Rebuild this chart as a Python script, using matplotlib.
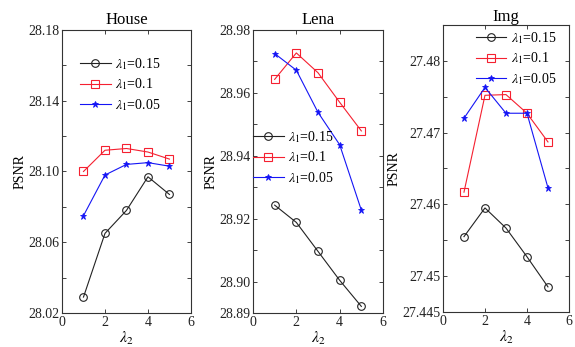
import matplotlib
matplotlib.use('Agg')
import matplotlib.pyplot as plt
from matplotlib.ticker import FixedLocator, FixedFormatter

plt.rcParams['font.family'] = ['Liberation Serif', 'DejaVu Serif']
plt.rcParams['mathtext.fontset'] = 'stix'
plt.rcParams['font.size'] = 10

lam2 = [1, 2, 3, 4, 5]
labels = [r'$\lambda_1$=0.15', r'$\lambda_1$=0.1', r'$\lambda_1$=0.05']

house_015 = [28.029, 28.065, 28.078, 28.097, 28.087]
house_01 = [28.100, 28.112, 28.113, 28.111, 28.107]
house_005 = [28.075, 28.098, 28.104, 28.105, 28.103]

lena_015 = [28.9243, 28.9188, 28.9096, 28.9004, 28.8921]
lena_01 = [28.9643, 28.9727, 28.9664, 28.9570, 28.9479]
lena_005 = [28.9725, 28.9672, 28.9538, 28.9435, 28.9227]

img_015 = [27.4555, 27.4595, 27.4567, 27.4527, 27.4485]
img_01 = [27.4617, 27.4752, 27.4753, 27.4727, 27.4687]
img_005 = [27.4720, 27.4763, 27.4727, 27.4727, 27.4623]

panels = [
    dict(title='House', data=[house_015, house_01, house_005],
         ylim=(28.02, 28.18),
         major=[28.02, 28.06, 28.10, 28.14, 28.18],
         major_lbl=['28.02', '28.06', '28.10', '28.14', '28.18'],
         minor=[28.04, 28.08, 28.12, 28.16],
         pos=[0.1078, 0.098, 0.2243, 0.8156],
         leg=(0.14, 0.908), title_pad=4),
    dict(title='Lena', data=[lena_015, lena_01, lena_005],
         ylim=(28.89, 28.98),
         major=[28.89, 28.90, 28.92, 28.94, 28.96, 28.98],
         major_lbl=['28.89', '28.90', '28.92', '28.94', '28.96', '28.98'],
         minor=[28.91, 28.93, 28.95, 28.97],
         pos=[0.4400, 0.098, 0.2261, 0.8156],
         leg=(0.0, 0.65), title_pad=4),
    dict(title='Img', data=[img_015, img_01, img_005],
         ylim=(27.445, 27.485),
         major=[27.445, 27.45, 27.46, 27.47, 27.48],
         major_lbl=['27.445', '27.45', '27.46', '27.47', '27.48'],
         minor=[27.455, 27.465, 27.475],
         pos=[0.7704, 0.1009, 0.2191, 0.8271],
         leg=(0.26, 0.983), title_pad=1.5),
]

styles = [
    dict(color='#222222', marker='o', mfc='none', ms=5.5, mew=0.8),
    dict(color='#f52030', marker='s', mfc='none', ms=5.5, mew=0.8),
    dict(color='#1515f5', marker='*', ms=5, mew=0.6),
]

fig = plt.figure(figsize=(5.75, 3.47), dpi=100)

for p in panels:
    ax = fig.add_axes(p['pos'])
    for vals, st, lbl in zip(p['data'], styles, labels):
        ax.plot(lam2, vals, lw=0.8, label=lbl, **st)
    ax.set_xlim(0, 6)
    ax.set_ylim(*p['ylim'])
    ax.set_xticks([0, 2, 4, 6])
    ax.yaxis.set_major_locator(FixedLocator(p['major']))
    ax.yaxis.set_major_formatter(FixedFormatter(p['major_lbl']))
    ax.yaxis.set_minor_locator(FixedLocator(p['minor']))
    ax.tick_params(which='both', direction='in', top=True, right=True,
                   length=3, width=0.6, pad=2, colors='#222222')
    for s in ax.spines.values():
        s.set_linewidth(0.8)
        s.set_color('#333333')
    ax.set_title(p['title'], pad=p['title_pad'])
    ax.set_ylabel('PSNR', labelpad=1)
    ax.set_xlabel(r'$\lambda_2$', labelpad=1, fontsize=11.5)
    ax.legend(loc='upper left', bbox_to_anchor=p['leg'], frameon=False,
              borderpad=0, handlelength=2.2, handletextpad=0.35,
              labelspacing=0.35, borderaxespad=0)

fig.savefig('out.png', dpi=100)
